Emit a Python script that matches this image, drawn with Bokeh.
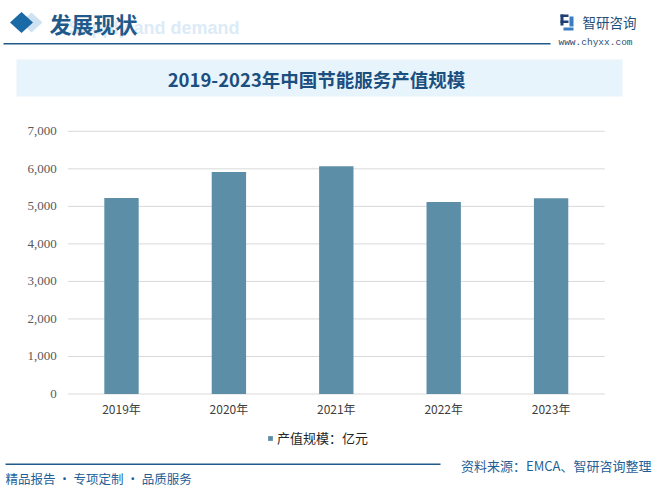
from bokeh.plotting import figure
from bokeh.models import (ColumnDataSource, Range1d, Label, BoxAnnotation, PolyAnnotation,
                          Legend, LegendItem)
from bokeh.embed import file_html
from bokeh.resources import INLINE

# ---- data ----
years = ["2019年", "2020年", "2021年", "2022年", "2023年"]
values = [5222, 5917, 6069, 5115, 5216]
y_ticks = [0, 1000, 2000, 3000, 4000, 5000, 6000, 7000]
title_text = "2019-2023年中国节能服务产值规模"
series_name = "产值规模：亿元"
header_text = "发展现状"
source_text = "资料来源：EMCA、智研咨询整理"
footer_text = "精品报告 · 专项定制 · 品质服务"

W, H = 658, 497
# geometry (canvas px): category 0 center, px per category, y of zero, px per unit
CX0, CW = 121.0, 107.4
Y0, PY = 393.5, 262.7 / 7000.0

CJK = "Noto Sans CJK SC"
SERIF = "Liberation Serif"
BAR = "#5c8fa7"
DARK = "#1f5a8a"

xr = Range1d(-CX0 / CW, (W - CX0) / CW)
yr = Range1d(-(H - Y0) / PY, Y0 / PY)

p = figure(width=W, height=H, x_range=xr, y_range=yr, output_backend="svg",
           toolbar_location=None, x_axis_location=None, y_axis_location=None,
           min_border=0)
p.outline_line_color = None
p.background_fill_color = "white"
p.border_fill_color = "white"
p.grid.visible = False


def dx(X):
    return (X - CX0) / CW


def dy(Y):
    return (Y0 - Y) / PY


idx = list(range(len(years)))
left_edge, right_edge = -0.5, len(years) - 0.5

# gridlines
p.segment(x0=[left_edge] * len(y_ticks), x1=[right_edge] * len(y_ticks),
          y0=y_ticks, y1=y_ticks, line_color="#d9d9d9", line_width=1)

src = ColumnDataSource(dict(x=idx, value=values, year=years))
r = p.vbar(x="x", top="value", width=0.32, source=src, color=BAR, line_color=None)

# y tick labels
p.text(x=[left_edge] * len(y_ticks), y=y_ticks, text=[f"{t:,}" for t in y_ticks],
       x_offset=-11, text_align="right", text_baseline="middle",
       text_font={"value": SERIF}, text_font_size={"value": "13px"}, text_color="#595959")
# x tick labels
p.text(x=idx, y=[dy(Y0 + 14.5)] * len(years), text=years,
       text_align="center", text_baseline="middle",
       text_font={"value": CJK}, text_font_size={"value": "12px"}, text_color="#404040")


def lab(text, X, Y, size, color, font=CJK, align="left", baseline="middle", bold=False):
    p.add_layout(Label(x=dx(X), y=dy(Y), text=text,
                       text_font=font, text_font_size=f"{size}px", text_color=color,
                       text_align=align, text_baseline=baseline,
                       text_font_style="bold" if bold else "normal"))


def box(x0, y0, x1, y1, color, alpha=1.0):
    p.add_layout(BoxAnnotation(left=dx(x0), right=dx(x1), top=dy(y0), bottom=dy(y1),
                               fill_color=color, fill_alpha=alpha, line_color=None,
                               level="underlay"))


def diamond(cx, cy, hw, hh, color):
    p.add_layout(PolyAnnotation(xs=[dx(cx - hw), dx(cx), dx(cx + hw), dx(cx)],
                                ys=[dy(cy), dy(cy - hh), dy(cy), dy(cy + hh)],
                                fill_color=color, fill_alpha=1, line_color=None))


# title band
box(16, 59, 622, 96, "#e8f4fc")
lab(title_text, 316, 78, 18.5, "#1b4f7f", bold=True, align="center")

# header
lab("Supply and demand", 68, 27, 18, "#dcebf7", font="Liberation Sans", bold=True)
diamond(31, 22, 11, 10, "#cfe2f1")
diamond(21, 22, 11.5, 10.5, "#1a6aa6")
lab(header_text, 49, 22, 22, DARK, bold=True)
box(3, 42.5, 550, 44, DARK)

# logo
box(560, 14, 568, 16.5, "#1f3f73")
box(560, 14, 563, 25, "#1f3f73")
box(560, 20, 568, 22.5, "#1f3f73")
box(569, 16, 573, 26, "#3a7cc0")
box(563, 27, 573, 30, "#3a7cc0")
lab("智研咨询", 582, 21, 13.5, "#1f4e79")
lab("www.chyxx.com", 595, 42, 9.5, "#2a4f75", font="Liberation Mono", align="center")

# legend
legend = Legend(items=[LegendItem(label=series_name, renderers=[r])],
                location=(267, H - 447), orientation="horizontal",
                background_fill_alpha=0, border_line_color=None,
                label_text_font=CJK, label_text_font_size="13px", label_text_color="#262626",
                glyph_width=6, glyph_height=6, label_standoff=4, padding=0, margin=0)
p.add_layout(legend, "center")

# footer
box(5, 463, 440, 464.5, DARK)
lab(footer_text, 5, 478, 12.5, "#1f5f98")
lab(source_text, 651, 464.5, 13, "#1f5f98", align="right")

open("out.html", "w").write(file_html(p, INLINE))
